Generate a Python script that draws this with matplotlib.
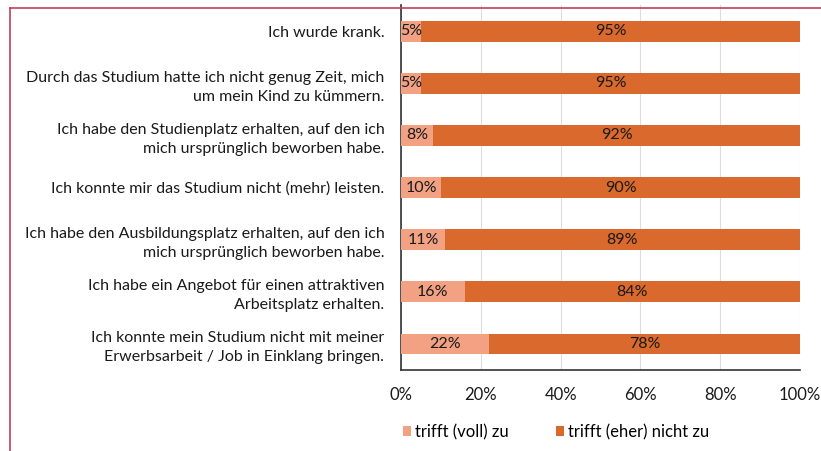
import matplotlib
matplotlib.use("Agg")
import matplotlib.pyplot as plt
from matplotlib.lines import Line2D
from matplotlib.ticker import PercentFormatter

categories = [
    "Ich wurde krank.",
    "Durch das Studium hatte ich nicht genug Zeit, mich\num mein Kind zu kümmern.",
    "Ich habe den Studienplatz erhalten, auf den ich\nmich ursprünglich beworben habe.",
    "Ich konnte mir das Studium nicht (mehr) leisten.",
    "Ich habe den Ausbildungsplatz erhalten, auf den ich\nmich ursprünglich beworben habe.",
    "Ich habe ein Angebot für einen attraktiven\nArbeitsplatz erhalten.",
    "Ich konnte mein Studium nicht mit meiner\nErwerbsarbeit / Job in Einklang bringen.",
]
trifft_zu = [5, 5, 8, 10, 11, 16, 22]
trifft_nicht_zu = [95, 95, 92, 90, 89, 84, 78]
series_names = ["trifft (voll) zu", "trifft (eher) nicht zu"]
xticks = [0, 20, 40, 60, 80, 100]

plt.rcParams['font.family'] = ['Lato', 'DejaVu Sans']

c_light = "#F2A283"
c_dark = "#D9692C"
txt = "#1a1a1a"

fig = plt.figure(figsize=(8.21, 4.51), dpi=100)
ax = fig.add_axes([401/821, 1-370/451, 399/821, 365/451])

y = list(range(len(categories)))
b1 = ax.barh(y, trifft_zu, height=0.4, color=c_light, label=series_names[0], zorder=3)
b2 = ax.barh(y, trifft_nicht_zu, left=trifft_zu, height=0.4, color=c_dark,
             label=series_names[1], zorder=3)

for i in y:
    ax.text(trifft_zu[i] / 2, i, f"{trifft_zu[i]}%", ha="center", va="center",
            fontsize=11.5, color=txt, zorder=4)
    ax.text(trifft_zu[i] + trifft_nicht_zu[i] / 2, i, f"{trifft_nicht_zu[i]}%",
            ha="center", va="center", fontsize=11.5, color=txt, zorder=4)

ax.set_xlim(0, 100)
ax.set_ylim(6.5, -0.5)
ax.set_yticks(y)
ax.set_yticklabels(categories, fontsize=11.5, ha="right", color=txt, linespacing=1.45)
ax.tick_params(axis="y", length=0, pad=12)
ax.set_xticks(xticks)
ax.xaxis.set_major_formatter(PercentFormatter(decimals=0))
ax.tick_params(axis="x", length=0, pad=12, labelsize=12, colors=txt)
ax.grid(axis="x", color="#dddddd", linewidth=0.8, zorder=0)
for s in ["top", "right"]:
    ax.spines[s].set_visible(False)
for s in ["left", "bottom"]:
    ax.spines[s].set_color("#333333")
    ax.spines[s].set_linewidth(1.2)

fig.legend(handles=[b1, b2], labels=series_names, loc="center",
           bbox_to_anchor=(556/821, 1-432/451), ncol=2, frameon=False,
           fontsize=12, handlelength=0.5, handleheight=0.5,
           columnspacing=2.8, handletextpad=0.25)

# red frame lines
fig.add_artist(Line2D([10/821, 1], [1-8/451, 1-8/451], transform=fig.transFigure,
                      color="#C0405A", linewidth=1.2))
fig.add_artist(Line2D([10/821, 10/821], [0, 1-8/451], transform=fig.transFigure,
                      color="#C0405A", linewidth=1.2))

fig.savefig("out.png", dpi=100, facecolor="white")
